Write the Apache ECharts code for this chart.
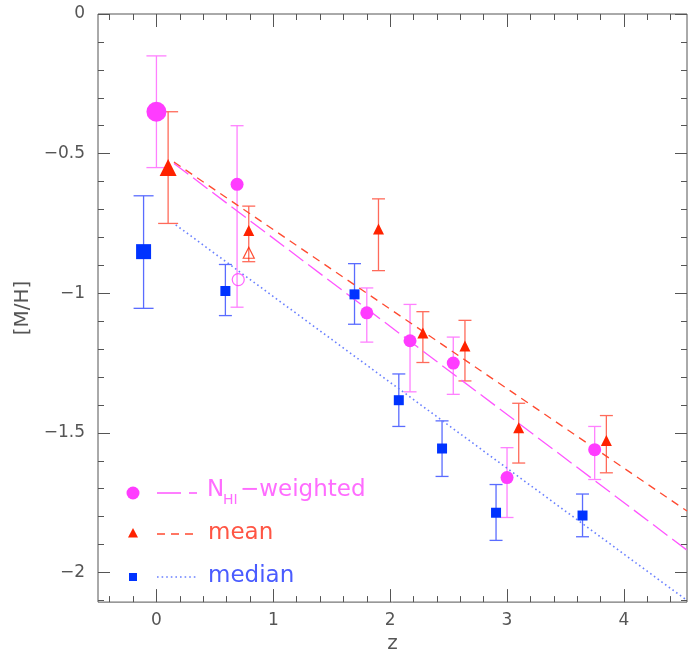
<!DOCTYPE html>
<html><head><meta charset="utf-8">
<script src="https://cdn.jsdelivr.net/npm/echarts@6/dist/echarts.min.js"></script>
<style>html,body{margin:0;padding:0;background:#fff}#c{width:688px;height:659px}</style>
</head><body><div id="c"></div>
<script>
// N_HI-weighted (magenta circles)
const nhiZ    = [0.00, 0.69, 1.80, 2.17, 2.54, 3.00, 3.75];
const nhiVal  = [-0.35, -0.61, -1.07, -1.17, -1.25, -1.66, -1.56];
const nhiLow  = [-0.55, -1.05, -1.175, -1.353, -1.362, -1.803, -1.667];
const nhiHigh = [-0.15, -0.40, -0.981, -1.040, -1.157, -1.553, -1.477];
const nhiOpen = [[0.70, -0.951]];
const nhiFit  = [[0.15, -0.535], [4.54, -1.92]];
// mean (red triangles)
const meanZ    = [0.10, 0.79, 1.90, 2.28, 2.64, 3.10, 3.85];
const meanVal  = [-0.55, -0.775, -0.77, -1.142, -1.189, -1.482, -1.527];
const meanLow  = [-0.75, -0.887, -0.919, -1.248, -1.314, -1.608, -1.643];
const meanHigh = [-0.35, -0.688, -0.662, -1.066, -1.097, -1.394, -1.438];
const meanOpen = [[0.79, -0.855]];
const meanFit  = [[0.15, -0.53], [4.54, -1.78]];
// median (blue squares)
const medZ    = [-0.11, 0.59, 1.695, 2.074, 2.444, 2.906, 3.646];
const medVal  = [-0.851, -0.992, -1.004, -1.383, -1.556, -1.786, -1.796];
const medLow  = [-1.054, -1.080, -1.111, -1.477, -1.656, -1.885, -1.872];
const medHigh = [-0.651, -0.897, -0.894, -1.289, -1.457, -1.685, -1.719];
const medFit  = [[0.165, -0.755], [4.54, -2.10]];
// axes
const xTicks = [0, 1, 2, 3, 4];
const xMinor = [-0.4, -0.2, 0.2, 0.4, 0.6, 0.8, 1.2, 1.4, 1.6, 1.8, 2.2, 2.4, 2.6, 2.8, 3.2, 3.4, 3.6, 3.8, 4.2, 4.4];
const yTicks = [0, -0.5, -1, -1.5, -2];
const yMinor = [-0.1, -0.2, -0.3, -0.4, -0.6, -0.7, -0.8, -0.9, -1.1, -1.2, -1.3, -1.4, -1.6, -1.7, -1.8, -1.9, -2.1];

const FONT = 'DejaVu Sans';
const AX = '#555';
const C = {
  nhi:  {mk: '#ff3cff', err: '#ff80ff', fit: '#ff55ff', txt: '#ff6cff'},
  mean: {mk: '#ff2200', err: '#ff6a5a', fit: '#ff4a30', txt: '#ff5544'},
  med:  {mk: '#0033ff', err: '#5a6cff', fit: '#6a80ff', txt: '#4a5cff'}
};

const X0 = -0.5, X1 = 4.54, Y0 = -2.106, Y1 = 0;
const fmt = v => (v === 0 ? '0' : String(v).replace('-', '\u2212'));

function xAx(pos, major, labels, name) {
  return {
    type: 'value', position: pos, min: X0, max: X1, gridIndex: 0,
    axisLine: {show: false, onZero: false},
    splitLine: {show: false},
    axisTick: {show: true, inside: true, length: major ? 13 : 6, customValues: major ? xTicks : xMinor,
               lineStyle: {color: AX, width: 1}},
    axisLabel: labels ? {show: true, customValues: xTicks, formatter: fmt, margin: 10,
               color: AX, fontFamily: FONT, fontSize: 17} : {show: false},
    name: name || '', nameLocation: 'middle', nameGap: 27,
    nameTextStyle: {color: AX, fontFamily: FONT, fontSize: 20}
  };
}
function yAx(pos, major, labels, name) {
  return {
    type: 'value', position: pos, min: Y0, max: Y1, gridIndex: 0,
    axisLine: {show: false, onZero: false},
    splitLine: {show: false},
    axisTick: {show: true, inside: true, length: major ? 12 : 6, customValues: major ? yTicks : yMinor,
               lineStyle: {color: AX, width: 1}},
    axisLabel: labels ? {show: true, customValues: yTicks, formatter: fmt, margin: 13,
               color: AX, fontFamily: FONT, fontSize: 17} : {show: false},
    name: name || '', nameLocation: 'middle', nameGap: 48,
    nameTextStyle: {color: AX, fontFamily: FONT, fontSize: 20}
  };
}

function errData(z, lo, hi) { return z.map((v, i) => [v, lo[i], hi[i]]); }
function errSeries(z, lo, hi, color) {
  return {
    type: 'custom', xAxisIndex: 0, yAxisIndex: 0, z: 1,
    data: errData(z, lo, hi),
    encode: {x: 0, y: [1, 2]},
    renderItem: function (params, api) {
      const x = api.value(0);
      const a = api.coord([x, api.value(1)]);
      const b = api.coord([x, api.value(2)]);
      const hw = params.dataIndex === 0 ? 10 : 6.5;
      const st = {stroke: color, lineWidth: 1.3};
      return {type: 'group', children: [
        {type: 'line', shape: {x1: a[0], y1: a[1], x2: b[0], y2: b[1]}, style: st},
        {type: 'line', shape: {x1: a[0] - hw, y1: a[1], x2: a[0] + hw, y2: a[1]}, style: st},
        {type: 'line', shape: {x1: b[0] - hw, y1: b[1], x2: b[0] + hw, y2: b[1]}, style: st}
      ]};
    }
  };
}
function pts(z, v) { return z.map((x, i) => [x, v[i]]); }
function markSeries(data, symbol, big, small, color) {
  return {
    type: 'scatter', xAxisIndex: 0, yAxisIndex: 0, z: 4, data: data, symbol: symbol,
    symbolSize: (val, p) => (p.dataIndex === 0 ? big : small),
    itemStyle: {color: color, opacity: 1}, silent: true
  };
}
function fitSeries(data, color, dash, w) {
  return {
    type: 'line', xAxisIndex: 0, yAxisIndex: 0, z: 3, data: data, showSymbol: false, symbol: 'none',
    clip: true, lineStyle: {color: color, width: w, type: dash}, silent: true
  };
}

const chart = echarts.init(document.getElementById('c'), null, {renderer: 'canvas'});
const legendText = (x, y, text, color, size) => ({
  type: 'text', x: x, y: y, silent: true,
  style: {text: text, fill: color, font: (size || 23) + 'px "' + FONT + '"', textVerticalAlign: 'middle', textAlign: 'left'}
});
chart.setOption({
  animation: false,
  backgroundColor: '#fff',
  grid: {left: 98, right: 1, top: 14, bottom: 47, show: true, borderColor: AX, borderWidth: 1, backgroundColor: 'transparent'},
  xAxis: [xAx('bottom', true, true, 'z'), xAx('bottom', false, false), xAx('top', true, false), xAx('top', false, false)],
  yAxis: [yAx('left', true, true, '[M/H]'), yAx('left', false, false), yAx('right', true, false), yAx('right', false, false)],
  series: [
    errSeries(nhiZ, nhiLow, nhiHigh, C.nhi.err),
    errSeries(meanZ, meanLow, meanHigh, C.mean.err),
    errSeries(medZ, medLow, medHigh, C.med.err),
    fitSeries(nhiFit, C.nhi.fit, [18, 6], 1.3),
    fitSeries(meanFit, C.mean.fit, [8, 6], 1.3),
    fitSeries(medFit, C.med.fit, [1.6, 3], 1.6),
    markSeries(pts(nhiZ, nhiVal), 'circle', 20, 13, C.nhi.mk),
    markSeries(pts(meanZ, meanVal), 'triangle', 17, 11, C.mean.mk),
    markSeries(pts(medZ, medVal), 'rect', 15, 10, C.med.mk),
    {type: 'scatter', z: 4, data: nhiOpen, symbol: 'circle', symbolSize: 12,
     itemStyle: {color: 'rgba(255,255,255,0)', borderColor: C.nhi.mk, borderWidth: 1.2}},
    {type: 'scatter', z: 4, data: meanOpen, symbol: 'triangle', symbolSize: 11,
     itemStyle: {color: 'rgba(255,255,255,0)', borderColor: C.mean.mk, borderWidth: 1.2}}
  ],
  graphic: [
    {type: 'circle', shape: {cx: 133, cy: 493, r: 6.5}, style: {fill: C.nhi.mk}, silent: true},
    {type: 'line', shape: {x1: 157, y1: 493, x2: 197, y2: 493}, style: {stroke: C.nhi.fit, lineWidth: 1.3, lineDash: [24, 8]}, silent: true},
    legendText(207, 490, 'N', C.nhi.txt, 23),
    legendText(223, 500, 'HI', C.nhi.txt, 14),
    legendText(240, 490, '\u2212weighted', C.nhi.txt, 23),
    {type: 'polygon', shape: {points: [[133, 528], [138, 537.5], [128, 537.5]]}, style: {fill: C.mean.mk}, silent: true},
    {type: 'line', shape: {x1: 157, y1: 534, x2: 197, y2: 534}, style: {stroke: C.mean.fit, lineWidth: 1.3, lineDash: [8, 6]}, silent: true},
    legendText(208, 533, 'mean', C.mean.txt, 23),
    {type: 'rect', shape: {x: 129, y: 573, width: 8, height: 8}, style: {fill: C.med.mk}, silent: true},
    {type: 'line', shape: {x1: 157, y1: 577, x2: 197, y2: 577}, style: {stroke: C.med.fit, lineWidth: 1.6, lineDash: [1.6, 3]}, silent: true},
    legendText(208, 576, 'median', C.med.txt, 23)
  ]
});
</script></body></html>
